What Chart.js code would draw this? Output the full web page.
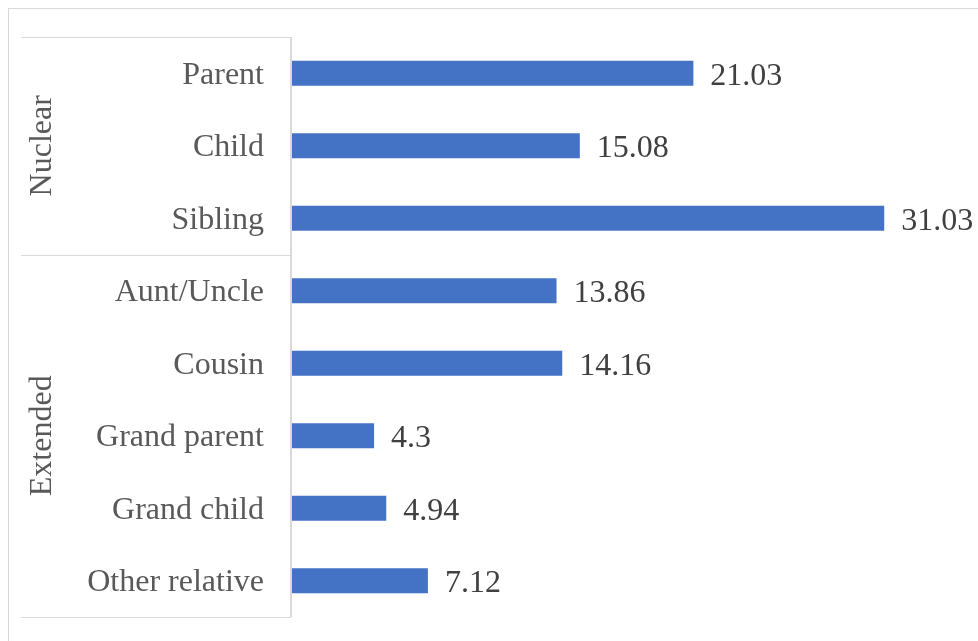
<!DOCTYPE html>
<html>
<head>
<meta charset="utf-8">
<script src="https://cdn.jsdelivr.net/npm/chart.js@4"></script>
<style>
  html, body { margin: 0; padding: 0; background: #fff; }
  #wrap { width: 978px; height: 641px; position: relative; }
</style>
</head>
<body>
<div id="wrap"><canvas id="chart"></canvas></div>
<script>
const labels = ["Parent", "Child", "Sibling", "Aunt/Uncle", "Cousin", "Grand parent", "Grand child", "Other relative"];
const values = [21.03, 15.08, 31.03, 13.86, 14.16, 4.3, 4.94, 7.12];
const groupNames = ["Nuclear", "Extended"];
const groupSizes = [3, 5];

const FONT = "'Liberation Serif', 'Times New Roman', serif";
const LINE = "#d9d9d9";

// outer frame, group brackets, group names and value labels
const extras = {
  id: "extras",
  afterDraw(chart) {
    const { ctx, chartArea } = chart;
    const y = chart.scales.y, x = chart.scales.x;
    ctx.save();
    ctx.strokeStyle = LINE;
    ctx.lineWidth = 1;
    ctx.strokeRect(8.5, 8.5, 2000, 2000);

    // axis line
    ctx.lineWidth = 2;
    ctx.beginPath();
    ctx.moveTo(chartArea.left - 1, y.getPixelForValue(-0.5));
    ctx.lineTo(chartArea.left - 1, y.getPixelForValue(labels.length - 0.5));
    ctx.stroke();

    // group separators
    ctx.lineWidth = 1;
    let start = 0;
    const edges = [-0.5];
    groupSizes.forEach((n) => { start += n; edges.push(start - 0.5); });
    edges.forEach((e) => {
      const py = Math.round(y.getPixelForValue(e)) + 0.5;
      ctx.beginPath();
      ctx.moveTo(21, py);
      ctx.lineTo(chartArea.left - 1, py);
      ctx.stroke();
    });

    // group names
    ctx.font = "32px " + FONT;
    ctx.fillStyle = "#595959";
    ctx.textAlign = "center";
    ctx.textBaseline = "middle";
    groupNames.forEach((g, i) => {
      const cy = (y.getPixelForValue(edges[i]) + y.getPixelForValue(edges[i + 1])) / 2;
      ctx.save();
      ctx.translate(43, cy);
      ctx.rotate(-Math.PI / 2);
      ctx.fillText(g, 0, 0);
      ctx.restore();
    });

    // value labels
    ctx.fillStyle = "#404040";
    ctx.textAlign = "left";
    values.forEach((v, i) => {
      ctx.fillText(String(v), x.getPixelForValue(v) + 17, y.getPixelForValue(i) + 3);
    });
    ctx.restore();
  },
};

new Chart(document.getElementById("chart"), {
  type: "bar",
  data: {
    labels,
    datasets: [{
      data: values,
      backgroundColor: "#4472C4",
      categoryPercentage: 1,
      barPercentage: 0.345,
    }],
  },
  options: {
    indexAxis: "y",
    responsive: true,
    maintainAspectRatio: false,
    animation: false,
    layout: { padding: { top: 37, bottom: 24, right: 18, left: 0 } },
    plugins: { legend: { display: false }, tooltip: { enabled: false } },
    scales: {
      x: { display: false, min: 0, max: 35 },
      y: {
        grid: { display: false },
        border: { display: false },
        ticks: {
          color: "#595959",
          padding: 20,
          labelOffset: 2,
          font: { family: FONT, size: 32 },
        },
        afterFit(scale) {
          scale.width = 292;
          scale.paddingTop = 0;
          scale.paddingBottom = 0;
        },
      },
    },
  },
  plugins: [extras],
});
</script>
</body>
</html>
